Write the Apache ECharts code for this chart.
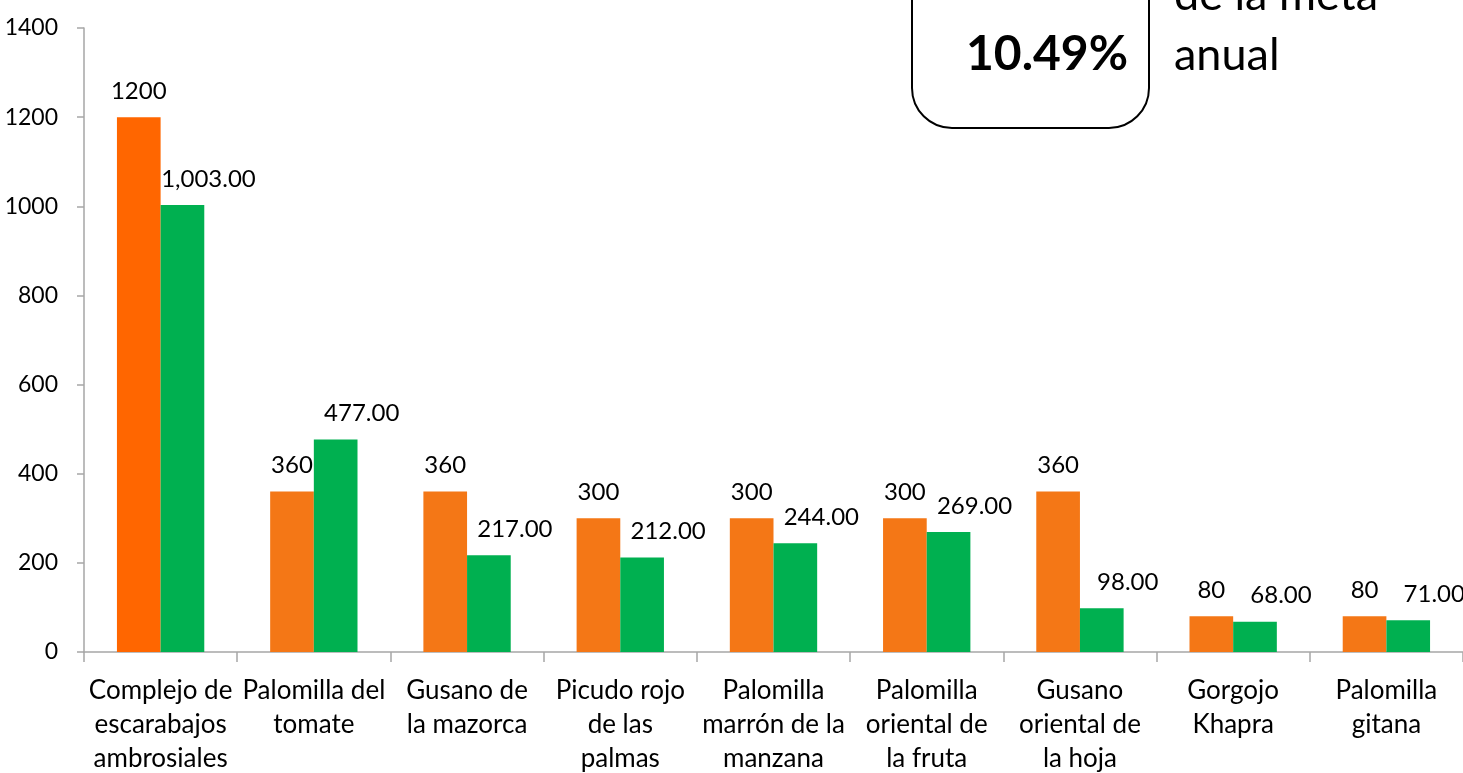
<!DOCTYPE html>
<html>
<head>
<meta charset="utf-8">
<script src="https://cdn.jsdelivr.net/npm/echarts@6/dist/echarts.min.js"></script>
<style>html,body{margin:0;padding:0;background:#fff;}#c{width:1463px;height:773px;}</style>
</head>
<body>
<div id="c"></div>
<script>
const categories = [
  'Complejo de\nescarabajos\nambrosiales',
  'Palomilla del\ntomate',
  'Gusano de\nla mazorca',
  'Picudo rojo\nde las\npalmas',
  'Palomilla\nmarrón de la\nmanzana',
  'Palomilla\noriental de\nla fruta',
  'Gusano\noriental de\nla hoja',
  'Gorgojo\nKhapra',
  'Palomilla\ngitana'
];
const metaValues = [1200, 360, 360, 300, 300, 300, 360, 80, 80];
const logroValues = [1003, 477, 217, 212, 244, 269, 98, 68, 71];
const yTicks = {min: 0, max: 1400, interval: 200};
const boxValue = '10.49%';
const boxCaption = ['de la meta', 'anual'];

const FONT = 'Lato';
function fmt2(v) {
  const parts = v.toFixed(2).split('.');
  parts[0] = parts[0].replace(/\B(?=(\d{3})+(?!\d))/g, ',');
  return parts.join('.');
}
const chart = echarts.init(document.getElementById('c'), null, {renderer: 'canvas'});
chart.setOption({
  animation: false,
  backgroundColor: '#fff',
  textStyle: {fontFamily: FONT},
  grid: {left: 84, right: 0, top: 28, bottom: 121, containLabel: false, outerBoundsMode: 'none'},
  xAxis: {
    type: 'category',
    data: categories,
    axisLine: {lineStyle: {color: '#A6A6A6', width: 1.5}},
    axisTick: {show: true, alignWithLabel: false, length: 10, lineStyle: {color: '#A6A6A6', width: 1.5}},
    axisLabel: {interval: 0, color: '#000', fontSize: 26, fontFamily: FONT, lineHeight: 34, margin: 22}
  },
  yAxis: {
    type: 'value',
    min: yTicks.min, max: yTicks.max, interval: yTicks.interval,
    splitLine: {show: false},
    axisLine: {show: true, lineStyle: {color: '#A6A6A6', width: 1.5}},
    axisTick: {show: true, length: 7, lineStyle: {color: '#A6A6A6', width: 1.5}},
    axisLabel: {color: '#000', fontSize: 23, fontFamily: FONT, margin: 26, formatter: v => String(v)}
  },
  series: [
    {
      type: 'bar',
      data: metaValues,
      barGap: 0,
      barCategoryGap: '43%',
      itemStyle: {color: p => p.dataIndex === 0 ? '#FF6600' : '#F47716'},
      label: {show: true, position: 'top', distance: 14, color: '#000', fontSize: 24, fontFamily: FONT,
        formatter: p => String(p.value)}
    },
    {
      type: 'bar',
      data: logroValues,
      itemStyle: {color: '#00B050'},
      label: {show: true, position: 'top', distance: 14, offset: [26, 0], color: '#000', fontSize: 24, fontFamily: FONT,
        formatter: p => fmt2(p.value)}
    }
  ],
  graphic: [
    {type: 'rect', shape: {x: 912, y: -60, width: 237, height: 188, r: 40},
      style: {fill: '#fff', stroke: '#000', lineWidth: 2}, z: 10},
    {type: 'text', x: 1047, y: 55, z: 11,
      style: {text: boxValue, fontFamily: FONT, fontWeight: 'bold', fontSize: 48, fill: '#000', align: 'center', verticalAlign: 'middle'}},
    {type: 'text', x: 1174, y: -5, z: 11,
      style: {text: boxCaption[0], fontFamily: FONT, fontSize: 45, fill: '#000', align: 'left', verticalAlign: 'middle'}},
    {type: 'text', x: 1174, y: 55, z: 11,
      style: {text: boxCaption[1], fontFamily: FONT, fontSize: 45, fill: '#000', align: 'left', verticalAlign: 'middle'}}
  ]
});
</script>
</body>
</html>
